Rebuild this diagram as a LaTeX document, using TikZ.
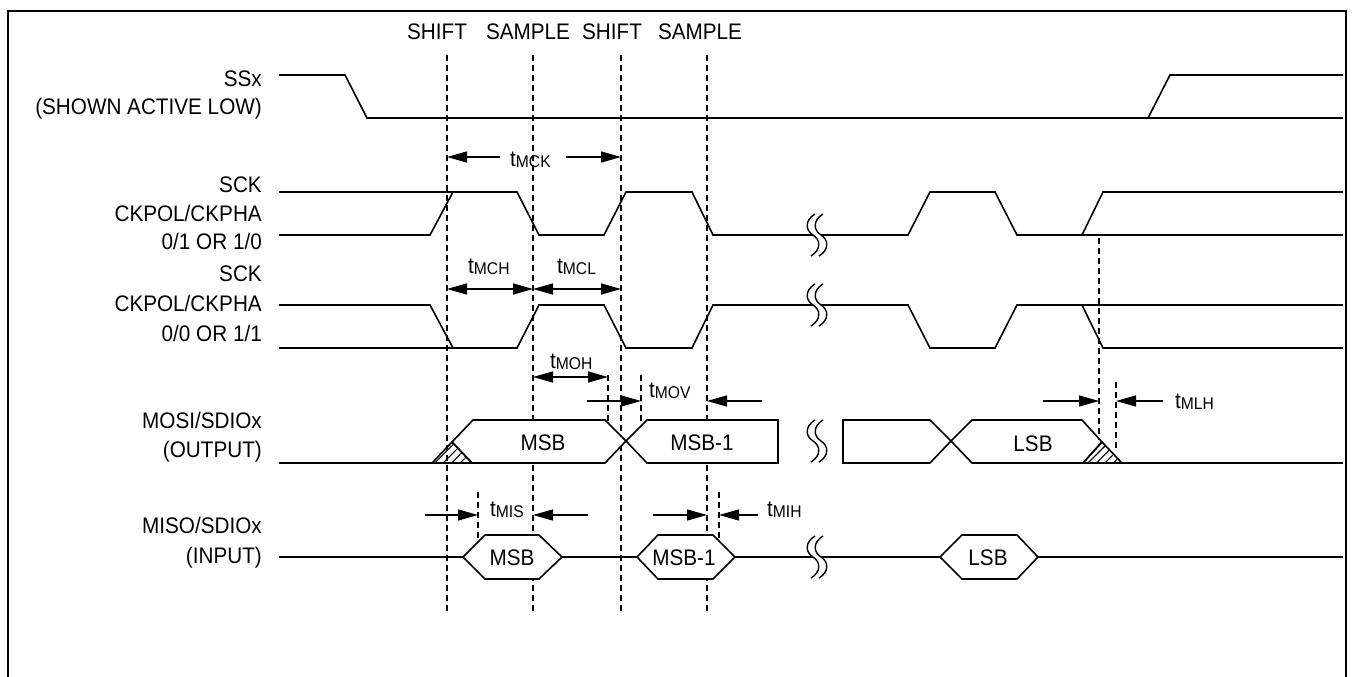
\documentclass[tikz,border=0pt]{standalone}
\usepackage{fontspec}
\setmainfont{Liberation Sans}[FakeStretch=0.92]
\usetikzlibrary{arrows.meta,patterns.meta}
\newcommand{\tm}[1]{t\raisebox{-1pt}{\fontsize{17}{17}\selectfont #1}}
\tikzset{brk/.pic={
  \fill[white] (-2,-21) .. controls (-12,-15) and (-12,-5) .. (-4,0) .. controls (4,5) and (4,15) .. (-6,21)
    -- (2,21) .. controls (12,15) and (12,5) .. (4,0) .. controls (-4,-5) and (-4,-15) .. (6,-21) -- cycle;
  \draw[line width=1.4pt] (-2,-21) .. controls (-12,-15) and (-12,-5) .. (-4,0) .. controls (4,5) and (4,15) .. (-6,21);
  \draw[line width=1.4pt] (6,-21) .. controls (-4,-15) and (-4,-5) .. (4,0) .. controls (12,5) and (12,15) .. (2,21);
}}

\begin{document}
\begin{tikzpicture}[x=1pt,y=-1pt]
\tikzstyle{sig}=[line width=1.6pt]
\tikzstyle{bus}=[line width=1.6pt,fill=white]
\tikzstyle{guide}=[line width=1.4pt,dash pattern=on 6pt off 4pt]
\tikzstyle{dim}=[line width=1.3pt,-{Triangle[length=20pt,width=11pt]}]
\tikzstyle{dimd}=[line width=1.3pt,{Triangle[length=20pt,width=11pt]}-{Triangle[length=20pt,width=11pt]}]
\tikzstyle{lbl}=[anchor=base east,inner sep=0pt,font=\fontsize{22.5}{27}\selectfont]
\tikzstyle{tlbl}=[anchor=base west,inner sep=0pt,font=\fontsize{22.5}{27}\selectfont]
\tikzstyle{word}=[anchor=base,inner sep=0pt,font=\fontsize{22.5}{27}\selectfont]
\tikzstyle{hatch}=[pattern={Lines[angle=45,distance=6pt,line width=1.1pt]}]
\useasboundingbox (0,0) rectangle (1353,677);
\draw[line width=1.5pt] (8,677) -- (8,11) -- (1346,11) -- (1346,677);
% edge names
\node[word] (sh1) at (437,40) {SHIFT};
\node[word] (sa1) at (528,40) {SAMPLE};
\node[word] (sh2) at (612,40) {SHIFT};
\node[word] (sa2) at (700,40) {SAMPLE};
\foreach \x in {447,533,621,707}
  \draw[guide] (\x,55) -- (\x,612);
% signal names
\node[lbl] (ss) at (262,87) {SSx};
\node[lbl] (ssb) at (262,114) {(SHOWN ACTIVE LOW)};
\node[lbl] (cka) at (262,192) {SCK};
\node[lbl] (ckb) at (262,221) {CKPOL/CKPHA};
\node[lbl] (ckc) at (262,249) {0/1 OR 1/0};
\node[lbl] (cla) at (262,281) {SCK};
\node[lbl] (clb) at (262,311) {CKPOL/CKPHA};
\node[lbl] (clc) at (262,341) {0/0 OR 1/1};
\node[lbl] (mo) at (262,428) {MOSI/SDIOx};
\node[lbl] (mob) at (262,457) {(OUTPUT)};
\node[lbl] (mi) at (262,533) {MISO/SDIOx};
\node[lbl] (mib) at (262,563) {(INPUT)};
% SSx
\draw[sig] (279,75) -- (345,75) -- (367,118) -- (1343,118);
\draw[sig] (1148,118) -- (1170,75) -- (1343,75);
% SCK 0/1 or 1/0
\draw[sig] (279,192) -- (517,192) -- (539,235) -- (604,235) -- (626,192) -- (692,192) -- (713,235) -- (908,235) -- (930,192) -- (995,192) -- (1017,235) -- (1082,235) -- (1103,192) -- (1343,192);
\draw[sig] (279,235) -- (430,235) -- (453,192);
\draw[sig] (1082,235) -- (1343,235);
% SCK 0/0 or 1/1
\draw[sig] (279,305) -- (430,305) -- (453,348) -- (517,348) -- (539,305) -- (604,305) -- (626,348) -- (692,348) -- (713,305) -- (908,305) -- (930,348) -- (995,348) -- (1017,305) -- (1082,305) -- (1103,348) -- (1343,348);
\draw[sig] (279,348) -- (453,348);
\draw[sig] (1082,305) -- (1343,305);
% MOSI
\draw[sig] (279,463) -- (472,463);
\draw[bus] (452,442) -- (473,420) -- (605,420) -- (626,441) -- (605,463) -- (472,463) -- cycle;
\draw[bus] (626,441) -- (647,420) -- (778,420) -- (778,463) -- (647,463) -- cycle;
\draw[sig,hatch] (432,463) -- (452,442) -- (472,463) -- cycle;
\draw[bus] (843,420) -- (930,420) -- (951,441) -- (930,463) -- (843,463) -- cycle;
\draw[bus] (951,441) -- (972,420) -- (1082,420) -- (1102,442) -- (1083,463) -- (972,463) -- cycle;
\draw[sig,hatch] (1083,463) -- (1102,442) -- (1122,463) -- cycle;
\draw[sig] (1083,463) -- (1343,463);
\node[word] (mo1) at (543,450) {MSB};
\node[word] (mo2) at (702,450) {MSB-1};
\node[word] (mo3) at (1033,451) {LSB};
% MISO
\draw[sig] (279,557) -- (463,557);
\draw[bus] (463,557) -- (485,535) -- (539,535) -- (562,557) -- (539,579) -- (485,579) -- cycle;
\draw[sig] (562,557) -- (637,557);
\draw[bus] (637,557) -- (658,535) -- (713,535) -- (735,557) -- (713,579) -- (658,579) -- cycle;
\draw[sig] (735,557) -- (940,557);
\draw[bus] (940,557) -- (962,535) -- (1017,535) -- (1038,557) -- (1017,579) -- (962,579) -- cycle;
\draw[sig] (1038,557) -- (1343,557);
\node[word] (mi1) at (512,565) {MSB};
\node[word] (mi2) at (684,565) {MSB-1};
\node[word] (mi3) at (988,565) {LSB};
% breaks
\pic at (817,235) {brk};
\pic at (817,305) {brk};
\pic at (817,441) {brk};
\pic at (817,557) {brk};
% timing marks
\draw[guide] (608,375) -- (608,423);
\draw[guide] (641,375) -- (641,425);
\draw[guide] (1099,238) -- (1099,440);
\draw[guide] (1116,382) -- (1116,448);
\draw[guide] (478,492) -- (478,541);
\draw[guide] (719,492) -- (719,541);
\draw[dim] (500,157) -- (447,157);
\draw[dim] (566,157) -- (621,157);
\node[tlbl] (tmck) at (510,166) {\tm{MCK}};
\draw[dimd] (447,289) -- (533,289);
\draw[dimd] (533,289) -- (621,289);
\node[tlbl] (tmch) at (468,273) {\tm{MCH}};
\node[tlbl] (tmcl) at (557,273) {\tm{MCL}};
\draw[dimd] (533,377) -- (608,377);
\node[tlbl] (tmoh) at (550,368) {\tm{MOH}};
\draw[dim] (587,401) -- (641,401);
\draw[dim] (762,401) -- (707,401);
\node[tlbl] (tmov) at (649,397) {\tm{MOV}};
\draw[dim] (1043,401) -- (1099,401);
\draw[dim] (1163,401) -- (1116,401);
\node[tlbl] (tmlh) at (1175,408) {\tm{MLH}};
\draw[dim] (425,515) -- (478,515);
\draw[dim] (588,515) -- (533,515);
\node[tlbl] (tmis) at (490,516) {\tm{MIS}};
\draw[dim] (653,515) -- (707,515);
\draw[dim] (758,515) -- (719,515);
\node[tlbl] (tmih) at (767,516) {\tm{MIH}};
\end{tikzpicture}
\end{document}
